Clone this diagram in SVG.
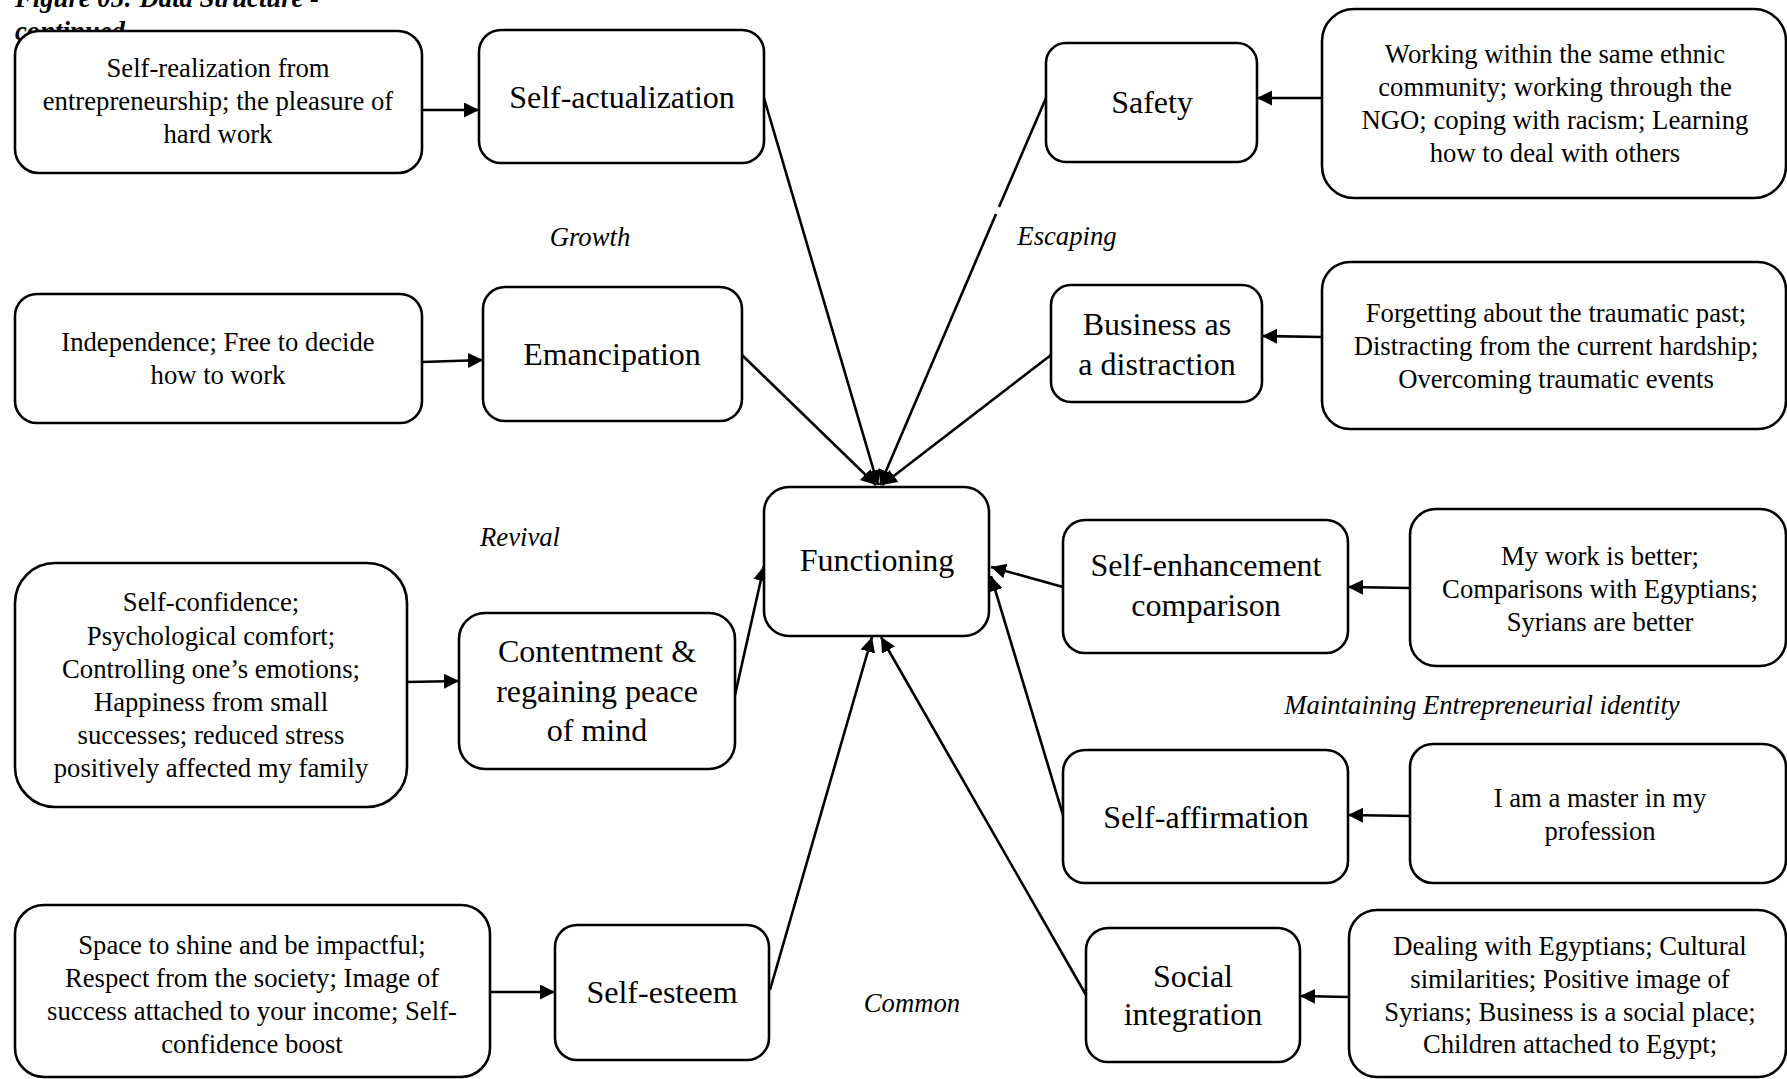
<svg xmlns="http://www.w3.org/2000/svg" width="1787" height="1079" viewBox="0 0 1787 1079">
  <style>
    .box { fill: #ffffff; stroke: #000000; stroke-width: 2.6; }
    .t { font-family: "Liberation Serif", "Times New Roman", serif; font-size: 26.7px; fill: #000000; text-anchor: middle; }
    .big { font-size: 32px; }
    .lbl { font-style: italic; }
    .title { font-family: "Liberation Serif", "Times New Roman", serif; font-size: 26.7px; font-weight: bold; font-style: italic; fill: #000000; }
    .edge { fill: none; stroke: #000000; stroke-width: 2.6; }
    .arr { marker-end: url(#ah); }
  </style>
  <defs>
    <marker id="ah" markerUnits="userSpaceOnUse" markerWidth="18" markerHeight="18" refX="15" refY="7.5" orient="auto">
      <path d="M0,0 L15,7.5 L0,15 z" fill="#000000"/>
    </marker>
  </defs>
  <rect width="1787" height="1079" fill="#ffffff"/>

  <!-- caption, partly hidden under the first box -->
  <g id="caption">
    <text class="title" x="15" y="7">Figure 05: Data Structure -</text>
    <text class="title" x="15" y="40">continued</text>
  </g>

  <!-- connectors -->
  <g id="connectors">
    <path class="edge arr" d="M422,110 L479,110"/>
    <path class="edge arr" d="M422,362 L483,360"/>
    <path class="edge arr" d="M407,682 L459,681"/>
    <path class="edge arr" d="M490,992 L555,992"/>
    <path class="edge arr" d="M1322,98 L1257,98"/>
    <path class="edge arr" d="M1322,337 L1262,336"/>
    <path class="edge arr" d="M1410,588 L1348,587"/>
    <path class="edge arr" d="M1410,816 L1348,815"/>
    <path class="edge arr" d="M1348,997 L1300,996"/>
    <path class="edge arr" d="M764,98 L878,485"/>
    <path class="edge arr" d="M742,355 L876,485"/>
    <path class="edge" d="M1046,98 L999,207"/>
    <path class="edge arr" d="M996,214 L880,485"/>
    <path class="edge arr" d="M1051,355 L882,485"/>
    <path class="edge arr" d="M735,695 L764,566"/>
    <path class="edge arr" d="M770,990 L872,637"/>
    <path class="edge arr" d="M1086,995 L881,637"/>
    <path class="edge arr" d="M1063,815 L991,576"/>
    <path class="edge arr" d="M1063,587 L991,567"/>
  </g>

  <!-- Growth -->
  <g id="n-selfrealization">
    <rect class="box" x="15" y="31" width="407" height="142" rx="24"/>
    <text class="t" x="218" y="77">Self-realization from</text>
    <text class="t" x="218" y="110">entrepreneurship; the pleasure of</text>
    <text class="t" x="218" y="143">hard work</text>
  </g>
  <g id="n-selfactualization">
    <rect class="box" x="479" y="30" width="285" height="133" rx="22"/>
    <text class="t big" x="622" y="108">Self-actualization</text>
  </g>
  <g id="n-independence">
    <rect class="box" x="15" y="294" width="407" height="129" rx="22"/>
    <text class="t" x="218" y="351">Independence; Free to decide</text>
    <text class="t" x="218" y="384">how to work</text>
  </g>
  <g id="n-emancipation">
    <rect class="box" x="483" y="287" width="259" height="134" rx="22"/>
    <text class="t big" x="612" y="365">Emancipation</text>
  </g>

  <!-- Revival -->
  <g id="n-selfconfidence">
    <rect class="box" x="15" y="563" width="392" height="244" rx="40"/>
    <text class="t" x="211" y="611">Self-confidence;</text>
    <text class="t" x="211" y="645">Psychological comfort;</text>
    <text class="t" x="211" y="678">Controlling one’s emotions;</text>
    <text class="t" x="211" y="711">Happiness from small</text>
    <text class="t" x="211" y="744">successes; reduced stress</text>
    <text class="t" x="211" y="777">positively affected my family</text>
  </g>
  <g id="n-contentment">
    <rect class="box" x="459" y="613" width="276" height="156" rx="26"/>
    <text class="t big" x="597" y="662">Contentment &amp;</text>
    <text class="t big" x="597" y="702">regaining peace</text>
    <text class="t big" x="597" y="741">of mind</text>
  </g>

  <!-- Common -->
  <g id="n-space">
    <rect class="box" x="15" y="905" width="475" height="172" rx="29"/>
    <text class="t" x="252" y="954">Space to shine and be impactful;</text>
    <text class="t" x="252" y="987">Respect from the society; Image of</text>
    <text class="t" x="252" y="1020">success attached to your income; Self-</text>
    <text class="t" x="252" y="1053">confidence boost</text>
  </g>
  <g id="n-selfesteem">
    <rect class="box" x="555" y="925" width="214" height="135" rx="22"/>
    <text class="t big" x="662" y="1003">Self-esteem</text>
  </g>

  <!-- centre -->
  <g id="n-functioning">
    <rect class="box" x="764" y="487" width="225" height="149" rx="25"/>
    <text class="t big" x="877" y="571">Functioning</text>
  </g>

  <!-- Escaping -->
  <g id="n-safety">
    <rect class="box" x="1046" y="43" width="211" height="119" rx="20"/>
    <text class="t big" x="1152" y="113">Safety</text>
  </g>
  <g id="n-working">
    <rect class="box" x="1322" y="9" width="464" height="189" rx="32"/>
    <text class="t" x="1555" y="63">Working within the same ethnic</text>
    <text class="t" x="1555" y="96">community; working through the</text>
    <text class="t" x="1555" y="129">NGO; coping with racism; Learning</text>
    <text class="t" x="1555" y="162">how to deal with others</text>
  </g>
  <g id="n-business">
    <rect class="box" x="1051" y="285" width="211" height="117" rx="20"/>
    <text class="t big" x="1157" y="335">Business as</text>
    <text class="t big" x="1157" y="375">a distraction</text>
  </g>
  <g id="n-forgetting">
    <rect class="box" x="1322" y="262" width="464" height="167" rx="28"/>
    <text class="t" x="1556" y="322">Forgetting about the traumatic past;</text>
    <text class="t" x="1556" y="355">Distracting from the current hardship;</text>
    <text class="t" x="1556" y="388">Overcoming traumatic events</text>
  </g>

  <!-- Maintaining Entrepreneurial identity -->
  <g id="n-selfenhancement">
    <rect class="box" x="1063" y="520" width="285" height="133" rx="22"/>
    <text class="t big" x="1206" y="576">Self-enhancement</text>
    <text class="t big" x="1206" y="616">comparison</text>
  </g>
  <g id="n-mywork">
    <rect class="box" x="1410" y="509" width="376" height="157" rx="26"/>
    <text class="t" x="1600" y="565">My work is better;</text>
    <text class="t" x="1600" y="598">Comparisons with Egyptians;</text>
    <text class="t" x="1600" y="631">Syrians are better</text>
  </g>
  <g id="n-selfaffirmation">
    <rect class="box" x="1063" y="750" width="285" height="133" rx="22"/>
    <text class="t big" x="1206" y="828">Self-affirmation</text>
  </g>
  <g id="n-master">
    <rect class="box" x="1410" y="744" width="376" height="139" rx="23"/>
    <text class="t" x="1600" y="807">I am a master in my</text>
    <text class="t" x="1600" y="840">profession</text>
  </g>
  <g id="n-social">
    <rect class="box" x="1086" y="928" width="214" height="134" rx="22"/>
    <text class="t big" x="1193" y="987">Social</text>
    <text class="t big" x="1193" y="1025">integration</text>
  </g>
  <g id="n-dealing">
    <rect class="box" x="1349" y="910" width="437" height="167" rx="28"/>
    <text class="t" x="1570" y="955">Dealing with Egyptians; Cultural</text>
    <text class="t" x="1570" y="988">similarities; Positive image of</text>
    <text class="t" x="1570" y="1021">Syrians; Business is a social place;</text>
    <text class="t" x="1570" y="1053">Children attached to Egypt;</text>
  </g>

  <!-- theme labels -->
  <g id="themes">
    <text class="t lbl" x="590" y="246">Growth</text>
    <text class="t lbl" x="1067" y="245">Escaping</text>
    <text class="t lbl" x="520" y="546">Revival</text>
    <text class="t lbl" x="1482" y="714">Maintaining Entrepreneurial identity</text>
    <text class="t lbl" x="912" y="1012">Common</text>
  </g>
</svg>
